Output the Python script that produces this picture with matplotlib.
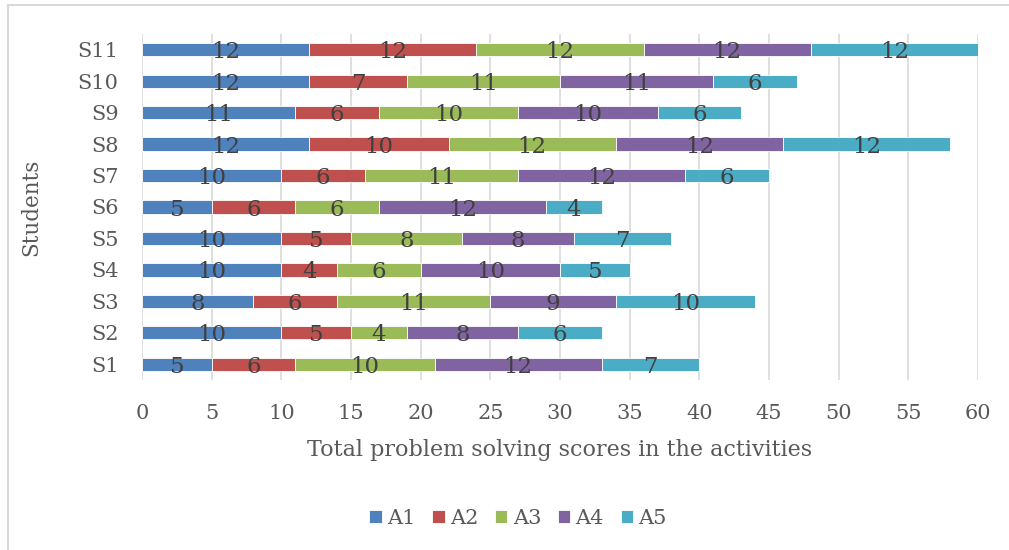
import numpy as np
import matplotlib.pyplot as plt
from matplotlib.patches import Rectangle

students = ['S1', 'S2', 'S3', 'S4', 'S5', 'S6', 'S7', 'S8', 'S9', 'S10', 'S11']
activities = ['A1', 'A2', 'A3', 'A4', 'A5']
a1 = [5, 10, 8, 10, 10, 5, 10, 12, 11, 12, 12]
a2 = [6, 5, 6, 4, 5, 6, 6, 10, 6, 7, 12]
a3 = [10, 4, 11, 6, 8, 6, 11, 12, 10, 11, 12]
a4 = [12, 8, 9, 10, 8, 12, 12, 12, 10, 11, 12]
a5 = [7, 6, 10, 5, 7, 4, 6, 12, 6, 6, 12]
colors = ['#4F81BD', '#C0504D', '#9BBB59', '#8064A2', '#4BACC6']

plt.rcParams['font.family'] = ['DejaVu Serif']

fig = plt.figure(figsize=(10.09, 5.5), dpi=100)
ax = fig.add_axes([142/1009, 1 - 380/550, (978-142)/1009, 346/550])

# outer chart border
fig.patches.append(Rectangle((8/1009, -0.1), 1.2, 1 - 5/550 + 0.1, transform=fig.transFigure,
                             fill=False, edgecolor='#D9D9D9', lw=1.5))

y = np.arange(len(students))
left = np.zeros(len(students))
for name, vals, c in zip(activities, [a1, a2, a3, a4, a5], colors):
    vals = np.array(vals)
    ax.barh(y, vals, left=left, height=0.42, color=c, edgecolor='white', linewidth=0.6,
            label=name, zorder=3)
    for yi, l, v in zip(y, left, vals):
        ax.text(l + v/2, yi - 0.08, str(v), ha='center', va='center',
                fontsize=16.5, color='#404040', zorder=4)
    left += vals

ax.set_xlim(0, 60)
ax.set_ylim(-0.5, 10.5)
ax.set_xticks(range(0, 61, 5))
ax.set_yticks(y)
ax.set_yticklabels(students)
ax.tick_params(length=0, labelsize=15, labelcolor='#595959')
ax.tick_params(axis='x', pad=17)
ax.tick_params(axis='y', pad=17)
ax.grid(axis='x', color='#D9D9D9', lw=1.2, zorder=0)
for s in ax.spines.values():
    s.set_visible(False)

ax.set_xlabel('Total problem solving scores in the activities', fontsize=16,
              color='#595959', labelpad=12)
ax.set_ylabel('Students', fontsize=15.5, color='#595959', labelpad=25)

fig.legend(loc='center', bbox_to_anchor=(518/1009, 1 - 518/550), ncol=5, frameon=False,
           fontsize=15, handlelength=0.6, handleheight=0.6, handletextpad=0.25,
           columnspacing=0.8, labelcolor='#595959')

fig.savefig('out.png', dpi=100)
